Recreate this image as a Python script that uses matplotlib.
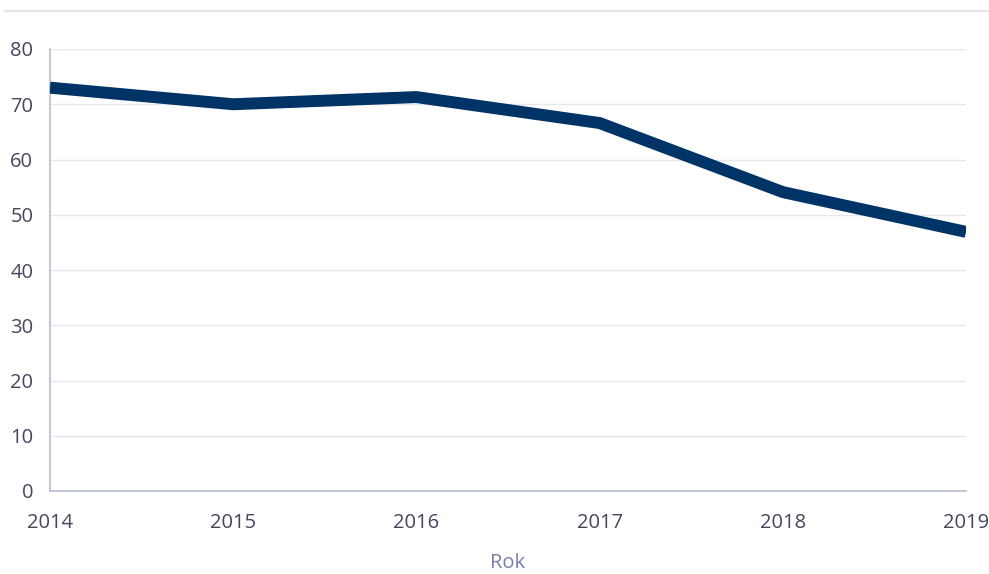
import matplotlib
matplotlib.use("Agg")
import matplotlib.pyplot as plt
from matplotlib.lines import Line2D

years = [2014, 2015, 2016, 2017, 2018, 2019]
values = [73.0, 70.0, 71.3, 66.6, 54.1, 46.9]
y_ticks = [0, 10, 20, 30, 40, 50, 60, 70, 80]

plt.rcParams['font.family'] = ['Open Sans', 'DejaVu Sans']

fig = plt.figure(figsize=(9.89, 5.74), dpi=100)
ax = fig.add_axes([50 / 989, 1 - 491 / 574, 916 / 989, 442 / 574])

ax.plot(years, values, color='#003366', linewidth=8.6, solid_capstyle='butt',
        solid_joinstyle='miter', zorder=3)

ax.set_xlim(2014, 2019)
ax.set_ylim(0, 80)
ax.set_xticks(years)
ax.set_yticks(y_ticks)
ax.grid(axis='y', color='#e6e6ee', linewidth=1)
ax.set_axisbelow(True)

for side in ['top', 'right']:
    ax.spines[side].set_visible(False)
for side in ['left', 'bottom']:
    ax.spines[side].set_color('#b8bcd2')
    ax.spines[side].set_linewidth(1.2)

ax.tick_params(axis='both', length=0, labelsize=14.5, labelcolor='#44475e')
ax.tick_params(axis='y', pad=12)
ax.tick_params(axis='x', pad=16)

ax.set_xlabel('Rok', fontsize=14.5, color='#7a7ea6', labelpad=14)

# thin rule under the header band
fig.add_artist(Line2D([5 / 989, 1], [1 - 10.5 / 574] * 2, color='#e4e4ec', linewidth=1.6))

fig.savefig('out.png', dpi=100)
